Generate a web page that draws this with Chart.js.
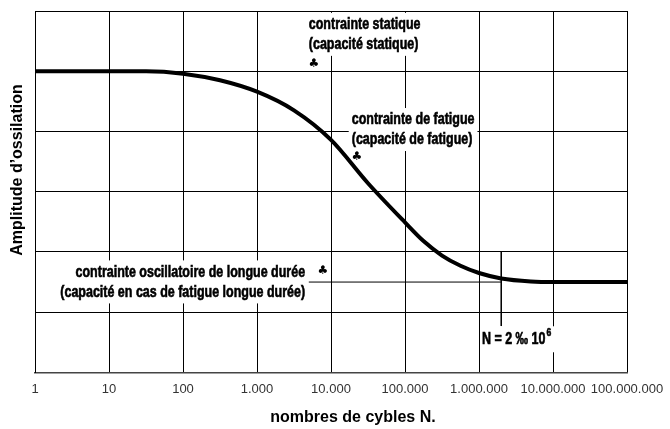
<!DOCTYPE html>
<html>
<head>
<meta charset="utf-8">
<script src="https://cdn.jsdelivr.net/npm/chart.js@4/dist/chart.umd.min.js"></script>
<style>
  html, body { margin: 0; padding: 0; background: #fff; }
</style>
</head>
<body>
<canvas id="wohlerChart" width="670" height="429"></canvas>
<script>
// curve: log10(N) and amplitude (grid units 0..6)
const logCycles = [0, 1, 1.5, 2, 2.5, 3, 3.5, 4, 4.5, 5, 5.25, 5.5, 5.75, 6, 6.3, 6.7, 7, 8];
const amplitude = [5.0, 5.0, 5.0, 4.96, 4.85, 4.66, 4.35, 3.86, 3.14, 2.49, 2.18, 1.94, 1.77, 1.65, 1.56, 1.51, 1.5, 1.5];
const decadeTicks = [1, 10, 100, 1e3, 1e4, 1e5, 1e6, 1e7, 1e8];
const enduranceLevel = 1.5;
const kneeCycles = 2e6;

const LABEL_FONT = 'bold 16px "Liberation Sans", Arial, sans-serif';
const TITLE_FONT = 'bold 16px "Liberation Sans", Arial, sans-serif';
const SQUEEZE = 0.78;   // fake the condensed face of the original

// text blocks sitting on white patches over the grid
const notes = [
    { lines: ['contrainte statique', '(capacité statique)'], logX: 3.70, y: 5.77, align: 'left', club: [3.77, 5.12] },
    { lines: ['contrainte de fatigue', '(capacité de fatigue)'], logX: 4.28, y: 4.19, align: 'left', club: [4.35, 3.58] },
    { lines: ['contrainte oscillatoire de longue durée', '(capacité en cas de fatigue longue durée)'], logX: 3.65, y: 1.66, align: 'right', club: [3.89, 1.69] }
];

function fmtCycles(v) {
    return String(Math.round(v)).replace(/\B(?=(\d{3})+(?!\d))/g, '.');
}

function narrowText(ctx, text, x, y) {
    ctx.save();
    ctx.translate(x, y);
    ctx.scale(SQUEEZE, 1);
    ctx.fillText(text, 0, 0);
    ctx.lineWidth = 0.6;
    ctx.strokeStyle = '#000';
    ctx.strokeText(text, 0, 0);
    ctx.restore();
}

const annotations = {
    id: 'annotations',
    beforeDatasetsDraw(chart) {
        const ctx = chart.ctx;
        const xs = chart.scales.x, ys = chart.scales.y;
        ctx.save();
        ctx.font = LABEL_FONT;
        ctx.textBaseline = 'middle';
        notes.forEach(n => {
            const x = xs.getPixelForValue(Math.pow(10, n.logX));
            const y = ys.getPixelForValue(n.y);
            const w = Math.max(...n.lines.map(l => ctx.measureText(l).width)) * SQUEEZE;
            const left = n.align === 'left' ? x - 3 : x - w - 3;
            const bottom = y + 20 * (n.lines.length - 1) + 11;
            ctx.fillStyle = '#fff';
            ctx.fillRect(left, y - 12, w + 6, bottom - (y - 12));
            ctx.fillStyle = '#000';
            ctx.textAlign = n.align;
            n.lines.forEach((l, i) => narrowText(ctx, l, x, y + 20 * i));
            // club marker
            const cx = xs.getPixelForValue(Math.pow(10, n.club[0]));
            const cy = ys.getPixelForValue(n.club[1]);
            ctx.font = '12px "DejaVu Sans", sans-serif';
            ctx.textAlign = 'center';
            ctx.fillText('♣', cx, cy);
            ctx.font = LABEL_FONT;
        });

        // N = 2 ‰ 10^6 label
        const nx = xs.getPixelForValue(Math.pow(10, 6.04));
        const ny = ys.getPixelForValue(0.55);
        const main = 'N = 2 ‰ 10';
        const mw = ctx.measureText(main).width * SQUEEZE;
        ctx.fillStyle = '#fff';
        ctx.fillRect(nx - 1, ny - 13, mw + 10, 26);
        ctx.fillStyle = '#000';
        ctx.textAlign = 'left';
        narrowText(ctx, main, nx, ny);
        ctx.font = 'bold 11px "Liberation Sans", Arial, sans-serif';
        narrowText(ctx, '6', nx + mw + 1, ny - 6);
        ctx.restore();
    },
    afterDraw(chart) {
        const ctx = chart.ctx;
        ctx.save();
        ctx.font = TITLE_FONT;
        ctx.fillStyle = '#000';
        ctx.textAlign = 'center';
        ctx.textBaseline = 'middle';
        ctx.fillText('nombres de cybles N.', 353, 418);
        ctx.translate(18, 170);
        ctx.rotate(-Math.PI / 2);
        ctx.fillText('Amplitude d\u2019ossilation', 0, 0);
        ctx.restore();
    }
};

const ctx = document.getElementById('wohlerChart').getContext('2d');
const chart = new Chart(ctx, {
    type: 'line',
    plugins: [annotations],
    data: {
        datasets: [
        {
            label: 'Amplitude',
            data: logCycles.map((e, i) => ({ x: Math.pow(10, e), y: amplitude[i] })),
            borderColor: '#000',
            borderWidth: 4,
            pointRadius: 0,
            cubicInterpolationMode: 'monotone',
            order: 0
        },
        {
            label: 'endurance',
            data: [{ x: Math.pow(10, 3.70), y: enduranceLevel }, { x: kneeCycles, y: enduranceLevel }],
            borderColor: '#000',
            borderWidth: 1,
            pointRadius: 0,
            order: 1
        },
        {
            label: 'knee',
            data: [{ x: kneeCycles, y: 2 }, { x: kneeCycles, y: 0.77 }],
            borderColor: '#000',
            borderWidth: 1,
            pointRadius: 0,
            order: 1
        }]
    },
    options: {
        responsive: false,
        animation: false,
        layout: {
            padding: { left: 35, top: 11, right: 43, bottom: 23 }
        },
        plugins: {
            legend: { display: false },
            tooltip: { enabled: false }
        },
        scales: {
            x: {
                type: 'logarithmic',
                min: 1,
                max: 1e8,
                afterBuildTicks: axis => {
                    axis.ticks = decadeTicks.map(v => ({ value: v }));
                },
                // let layout padding alone decide the plot edges
                afterFit: axis => {
                    axis.paddingLeft = 0;
                    axis.paddingRight = 0;
                },
                grid: { color: '#000', lineWidth: 1, drawTicks: false },
                border: { color: '#444', width: 1.5 },
                ticks: {
                    padding: 9,
                    color: '#333',
                    autoSkip: false,
                    maxRotation: 0,
                    font: { family: '"Liberation Sans", Arial, sans-serif', size: 13 },
                    callback: v => fmtCycles(v)
                }
            },
            y: {
                min: 0,
                max: 6,
                grid: { color: '#000', lineWidth: 1, drawTicks: false },
                border: { color: '#000', width: 1 },
                ticks: { display: false, stepSize: 1 }
            }
        }
    }
});
</script>
</body>
</html>
